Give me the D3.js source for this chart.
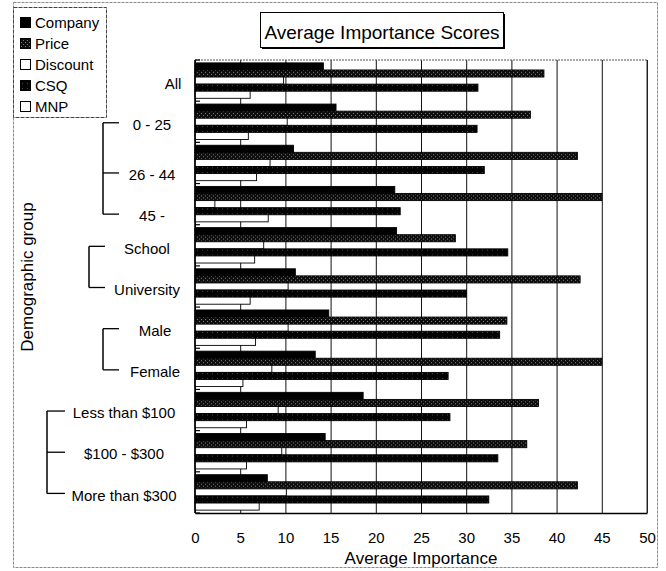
<!DOCTYPE html>
<html>
<head>
<meta charset="utf-8">
<script src="https://cdn.jsdelivr.net/npm/d3@7"></script>
<style>
  body { margin: 0; background: #fff; }
  svg { display: block; font-family: "Liberation Sans", Arial, Helvetica, sans-serif; }
</style>
</head>
<body>
<svg id="chart"></svg>
<script>
// values
const groups = ["All", "0 - 25", "26 - 44", "45 -", "School", "University",
  "Male", "Female", "Less than $100", "$100 - $300", "More than $300"];
const seriesNames = ["Company", "Price", "Discount", "CSQ", "MNP"];
const company  = [14.2, 15.6, 10.9, 22.1, 22.3, 11.1, 14.8, 13.3, 18.6, 14.4, 8.0];
const price    = [38.6, 37.1, 42.3, 45.0, 28.8, 42.6, 34.5, 45.0, 38.0, 36.7, 42.3];
const discount = [9.8, 10.2, 8.3, 2.2, 7.6, 10.3, 10.3, 8.5, 9.2, 9.6, 10.1];
const csq      = [31.3, 31.2, 32.0, 22.7, 34.6, 30.0, 33.7, 28.0, 28.2, 33.5, 32.5];
const mnp      = [6.1, 5.9, 6.8, 8.1, 6.6, 6.1, 6.7, 5.3, 5.7, 5.7, 7.1];
const xTicks = [0, 5, 10, 15, 20, 25, 30, 35, 40, 45, 50];
// sub-groups joined by a bracket on the left
const bracketGroups = [
  ["0 - 25", "26 - 44", "45 -"],
  ["School", "University"],
  ["Male", "Female"],
  ["Less than $100", "$100 - $300", "More than $300"]
];

class ImportanceChart {
  constructor(_parent) {
    this.parent = _parent;
    this.init();
  }

  init() {
    let self = this;

    self.width = 666;
    self.height = 571;
    self.plot = {left: 195, right: 647, top: 60, bottom: 513};

    let values = [company, price, discount, csq, mnp];
    let rows = groups.map(function(g, i) {
      return {group: g, bars: seriesNames.map(function(s, j) { return {series: s, value: values[j][i]}; })};
    });

    let svg = d3.select('#' + self.parent)
      .attr("width", self.width)
      .attr("height", self.height);

    // fill patterns for the hatched series
    let defs = svg.append("defs");
    let pPrice = defs.append("pattern").attr("id", "pat-price")
      .attr("width", 4).attr("height", 4).attr("patternUnits", "userSpaceOnUse");
    pPrice.append("rect").attr("width", 4).attr("height", 4).attr("fill", "#0e0e0e");
    pPrice.append("rect").attr("x", 1).attr("y", 1).attr("width", 1).attr("height", 1).attr("fill", "#7a7a7a");
    pPrice.append("rect").attr("x", 3).attr("y", 3).attr("width", 1).attr("height", 1).attr("fill", "#7a7a7a");
    let pCsq = defs.append("pattern").attr("id", "pat-csq")
      .attr("width", 5).attr("height", 5).attr("patternUnits", "userSpaceOnUse");
    pCsq.append("rect").attr("width", 5).attr("height", 5).attr("fill", "#030303");
    pCsq.append("rect").attr("x", 2).attr("y", 2).attr("width", 1).attr("height", 1).attr("fill", "#4a4a4a");

    let fills = {Company: "#000", Price: "url(#pat-price)", Discount: "#fff", CSQ: "url(#pat-csq)", MNP: "#fff"};

    // outer chart frame
    svg.append("rect")
      .attr("x", 13.5).attr("y", 2.5).attr("width", 644).attr("height", 565)
      .attr("fill", "none").attr("stroke", "#8a8a8a").attr("stroke-dasharray", "3,1");

    let x = d3.scaleLinear().domain([0, 50]).range([self.plot.left, self.plot.right]);
    let y0 = d3.scaleBand().domain(groups)
      .range([self.plot.top, self.plot.bottom])
      .paddingInner(0.14).paddingOuter(0.07);
    let y1 = d3.scaleBand().domain(seriesNames).range([0, y0.bandwidth()]);

    // gridlines + x axis
    let xAxis = d3.axisBottom(x).tickValues(xTicks)
      .tickSize(-(self.plot.bottom - self.plot.top)).tickSizeOuter(0).tickPadding(19);
    let gx = svg.append("g")
      .attr("transform", "translate(0," + self.plot.bottom + ")")
      .call(xAxis);
    gx.selectAll(".tick line").attr("stroke", "#111").attr("stroke-width", 1);
    gx.selectAll(".tick text").attr("font-size", 15).attr("fill", "#000");
    gx.select(".domain").attr("stroke", "#000").attr("stroke-width", 1.3);

    // bars
    let g = svg.selectAll(".grp")
      .data(rows)
      .enter().append("g")
      .attr("class", "grp")
      .attr("transform", function(d) { return "translate(0," + y0(d.group) + ")"; });

    g.selectAll("rect")
      .data(function(d) { return d.bars; })
      .enter().append("rect")
      .attr("x", x(0))
      .attr("y", function(d) { return y1(d.series); })
      .attr("width", function(d) { return x(d.value) - x(0); })
      .attr("height", y1.bandwidth())
      .attr("fill", function(d) { return fills[d.series]; })
      .attr("stroke", "#000")
      .attr("stroke-width", 0.9);

    // plot frame, left axis and category tick marks
    svg.append("line")
      .attr("x1", self.plot.left).attr("x2", self.plot.right)
      .attr("y1", self.plot.top).attr("y2", self.plot.top)
      .attr("stroke", "#555").attr("stroke-dasharray", "2,1");
    svg.append("line")
      .attr("x1", self.plot.right).attr("x2", self.plot.right)
      .attr("y1", self.plot.top).attr("y2", self.plot.bottom)
      .attr("stroke", "#333");
    svg.append("line")
      .attr("x1", self.plot.left).attr("x2", self.plot.left)
      .attr("y1", self.plot.top).attr("y2", self.plot.bottom)
      .attr("stroke", "#000").attr("stroke-width", 1.6);
    let bounds = d3.range(groups.length + 1).map(function(i) { return y0.range()[0] + i * y0.step(); });
    svg.selectAll(".ctick")
      .data(bounds)
      .enter().append("line")
      .attr("class", "ctick")
      .attr("x1", self.plot.left).attr("x2", self.plot.left + 5)
      .attr("y1", function(d) { return d; }).attr("y2", function(d) { return d; })
      .attr("stroke", "#000").attr("stroke-width", 1.2);

    // category labels and brackets
    let bracketX = [103, 89, 103, 47];
    let labelCx = [152, 147, 155, 124];
    let nudge = {"26 - 44": 9, "45 -": 9};
    let labelY = function(c) { return y0(c) + y0.bandwidth() / 2 + 3 + (nudge[c] || 0); };
    let centerOf = function(c) {
      for (let k = 0; k < bracketGroups.length; k++) {
        if (bracketGroups[k].indexOf(c) >= 0) { return labelCx[k]; }
      }
      return 173;
    };

    svg.selectAll(".clabel")
      .data(groups)
      .enter().append("text")
      .attr("class", "clabel")
      .attr("x", function(d) { return centerOf(d); })
      .attr("y", function(d) { return labelY(d); })
      .attr("dy", "0.35em")
      .attr("text-anchor", "middle")
      .attr("font-size", 15)
      .text(function(d) { return d; });

    bracketGroups.forEach(function(members, k) {
      let ys = members.map(function(c) { return labelY(c) - 2; });
      let bx = bracketX[k];
      let len = (k === 3) ? 18 : 16;
      svg.append("line")
        .attr("x1", bx).attr("x2", bx)
        .attr("y1", d3.min(ys)).attr("y2", d3.max(ys))
        .attr("stroke", "#000").attr("stroke-width", 1.5);
      svg.selectAll(".bt" + k)
        .data(ys)
        .enter().append("line")
        .attr("x1", bx).attr("x2", bx + len)
        .attr("y1", function(d) { return d; }).attr("y2", function(d) { return d; })
        .attr("stroke", "#000").attr("stroke-width", 1.3);
    });

    // axis titles
    svg.append("text")
      .attr("transform", "translate(33,277) rotate(-90)")
      .attr("text-anchor", "middle")
      .attr("font-size", 17)
      .text("Demographic group");
    svg.append("text")
      .attr("x", (self.plot.left + self.plot.right) / 2)
      .attr("y", 564)
      .attr("text-anchor", "middle")
      .attr("font-size", 17)
      .text("Average Importance");

    // title box with shadow
    svg.append("rect")
      .attr("x", 262).attr("y", 14).attr("width", 243).attr("height", 35)
      .attr("fill", "#000");
    svg.append("rect")
      .attr("x", 260.5).attr("y", 12.5).attr("width", 243).attr("height", 35)
      .attr("fill", "#fff").attr("stroke", "#000");
    svg.append("text")
      .attr("x", 382).attr("y", 39)
      .attr("text-anchor", "middle")
      .attr("font-size", 19)
      .text("Average Importance Scores");

    // legend
    let lg = svg.append("g");
    lg.append("rect")
      .attr("x", 13.5).attr("y", 7.5).attr("width", 93).attr("height", 110)
      .attr("fill", "#fff").attr("stroke", "#444").attr("stroke-dasharray", "4,1");
    let item = lg.selectAll(".item")
      .data(seriesNames)
      .enter().append("g")
      .attr("class", "item")
      .attr("transform", function(d, i) { return "translate(0," + (28 + 21 * i) + ")"; });
    item.append("rect")
      .attr("x", 20.5).attr("y", -10.5).attr("width", 10).attr("height", 10)
      .attr("fill", function(d) { return fills[d]; })
      .attr("stroke", "#000");
    item.append("text")
      .attr("x", 35).attr("y", 0)
      .attr("font-size", 15)
      .text(function(d) { return d; });
  }
}

new ImportanceChart("chart");
</script>
</body>
</html>
